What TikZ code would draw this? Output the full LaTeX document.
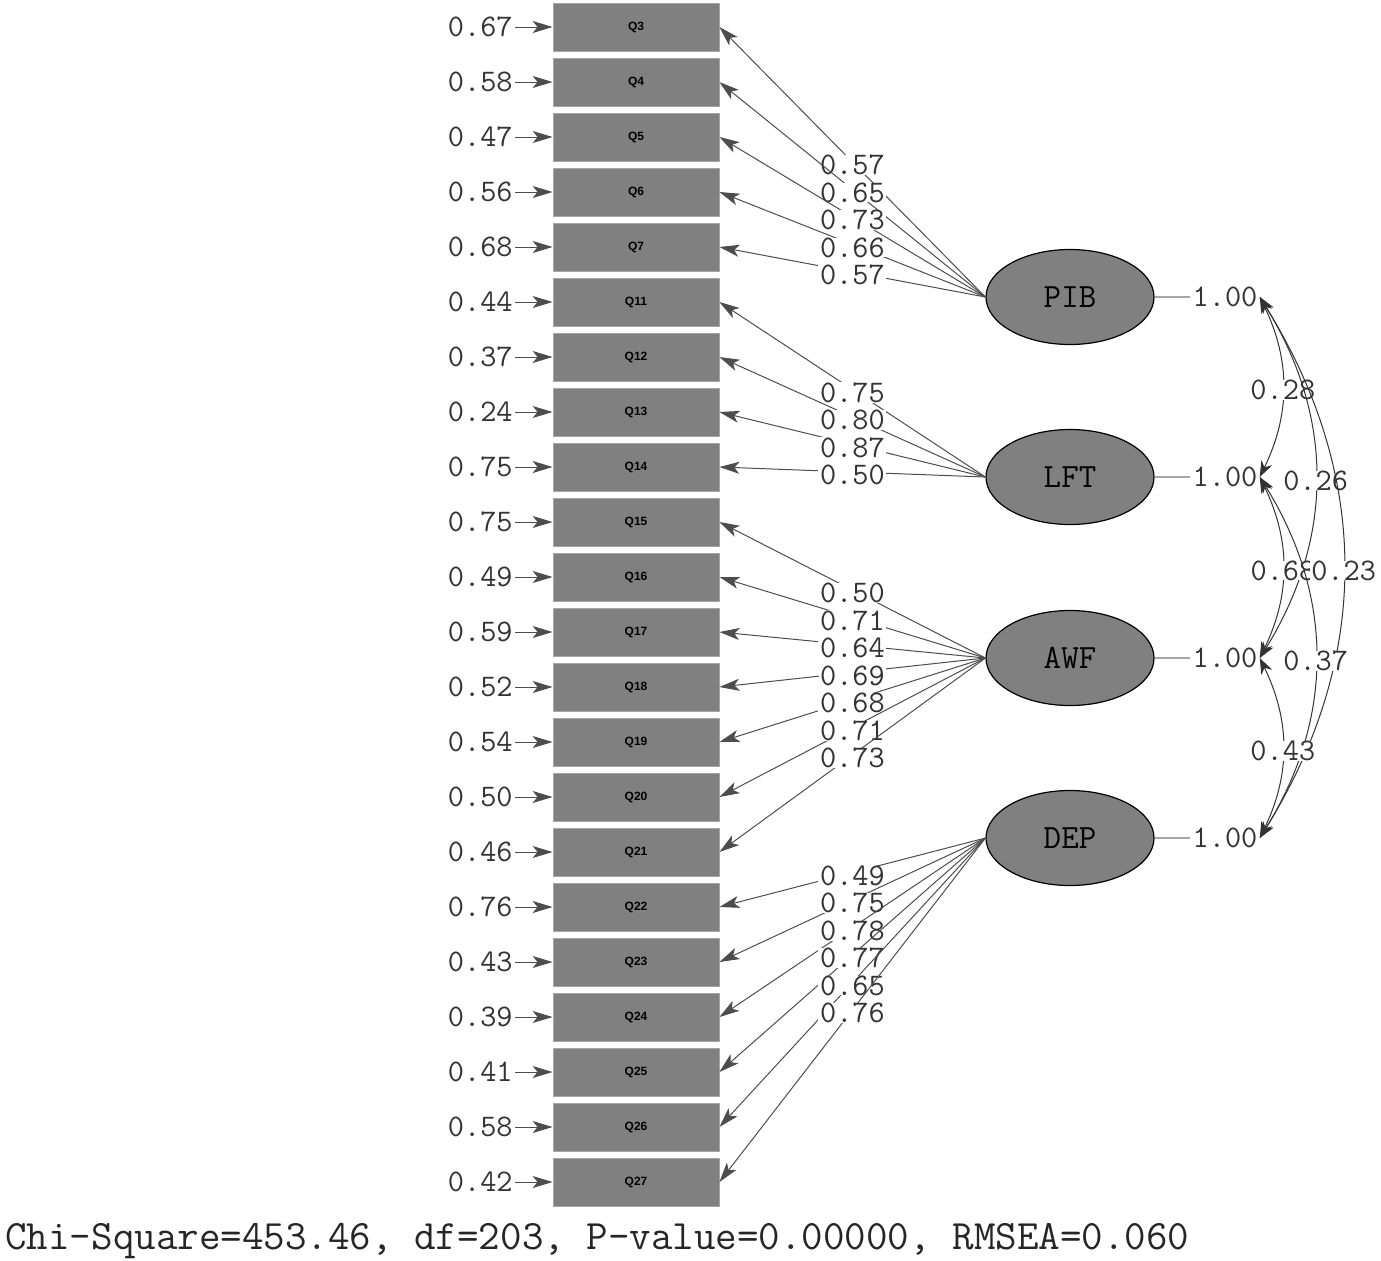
\documentclass[tikz,border=0pt]{standalone}
\usepackage{fontspec}
\setsansfont{Liberation Sans}
\usetikzlibrary{arrows.meta, shapes.geometric, positioning}
\definecolor{lisgray}{HTML}{808080}
\definecolor{linegray}{HTML}{4D4D4D}
\definecolor{vargray}{HTML}{A6A6A6}

\begin{document}
\begin{tikzpicture}[x=0.5pt, y=0.5pt,
    item/.style={rectangle, draw=black!35, line width=0.4pt, fill=lisgray, minimum width=83pt, minimum height=24pt, inner sep=0pt, font=\sffamily\bfseries\fontsize{6}{6}\selectfont},
    factor/.style={ellipse, draw=black, line width=0.6pt, fill=lisgray, minimum width=84pt, minimum height=47.5pt, inner sep=0pt, font=\ttfamily\fontsize{17}{17}\selectfont},
    num/.style={font=\ttfamily\fontsize{15.7}{15.7}\selectfont, text=black!80, inner sep=1pt},
    coef/.style={num, fill=white, inner xsep=0.8pt, inner ysep=0pt, yshift=-1.5pt},
    arrow/.style={-{Stealth[length=10pt, width=6pt, inset=2.5pt]}, linegray, line width=0.5pt},
    cor/.style={{Stealth[length=8pt, width=6pt]}-{Stealth[length=8pt, width=6pt]}, black!80, line width=0.5pt}
]
    \useasboundingbox (0,0) rectangle (1381,-1260);

    % observed items with error variances
    \foreach \q/\e [count=\i from 0] in {3/0.67, 4/0.58, 5/0.47, 6/0.56, 7/0.68, 11/0.44, 12/0.37, 13/0.24, 14/0.75, 15/0.75, 16/0.49, 17/0.59, 18/0.52, 19/0.54, 20/0.50, 21/0.46, 22/0.76, 23/0.43, 24/0.39, 25/0.41, 26/0.58, 27/0.42} {
        \node[item] (q\q) at (636, -27-55*\i) {Q\q};
        \node[num, anchor=east] (e\q) at (515, -27-55*\i) {\e};
        \draw[arrow] (e\q) -- (q\q);
    }

    % latent factors
    \node[factor] (pib) at (1070,-297) {PIB};
    \node[factor] (lft) at (1070,-477) {LFT};
    \node[factor] (awf) at (1070,-658) {AWF};
    \node[factor] (dep) at (1070,-838) {DEP};

    \node[num] (vpib) at (1225,-297) {1.00};
    \node[num] (vlft) at (1225,-477) {1.00};
    \node[num] (vawf) at (1225,-658) {1.00};
    \node[num] (vdep) at (1225,-838) {1.00};
    \draw[vargray, line width=0.6pt] (pib) -- (vpib);
    \draw[vargray, line width=0.6pt] (lft) -- (vlft);
    \draw[vargray, line width=0.6pt] (awf) -- (vawf);
    \draw[vargray, line width=0.6pt] (dep) -- (vdep);

    % loadings
    \foreach \q/\l in {3/0.57, 4/0.65, 5/0.73, 6/0.66, 7/0.57}
        \draw[arrow] (pib.west) -- (q\q.east) node[coef, pos=0.5] (l\q) {\l};
    \foreach \q/\l in {11/0.75, 12/0.80, 13/0.87, 14/0.50}
        \draw[arrow] (lft.west) -- (q\q.east) node[coef, pos=0.5] (l\q) {\l};
    \foreach \q/\l in {15/0.50, 16/0.71, 17/0.64, 18/0.69, 19/0.68, 20/0.71, 21/0.73}
        \draw[arrow] (awf.west) -- (q\q.east) node[coef, pos=0.5] (l\q) {\l};
    \foreach \q/\l in {22/0.49, 23/0.75, 24/0.78, 25/0.77, 26/0.65, 27/0.76}
        \draw[arrow] (dep.west) -- (q\q.east) node[coef, pos=0.5] (l\q) {\l};

    % factor correlations
    \draw[cor] (vpib.east) to[bend left=26] node[coef, midway] (c21) {0.28} (vlft.east);
    \draw[cor] (vpib.east) to[bend left=32] node[coef, midway] (c31) {0.26} (vawf.east);
    \draw[cor] (vlft.east) to[bend left=26] node[coef, midway] (c32) {0.68} (vawf.east);
    \draw[cor] (vpib.east) to[bend left=32] node[coef, midway] (c41) {0.23} (vdep.east);
    \draw[cor] (vlft.east) to[bend left=32] node[coef, midway] (c42) {0.37} (vdep.east);
    \draw[cor] (vawf.east) to[bend left=26] node[coef, midway] (c43) {0.43} (vdep.east);

    \node[anchor=base west, inner sep=0pt, text=black!85, font=\ttfamily\fontsize{20.9}{20.9}\selectfont] (fit) at (5,-1249) {Chi-Square=453.46, df=203, P-value=0.00000, RMSEA=0.060};
\end{tikzpicture}
\end{document}
